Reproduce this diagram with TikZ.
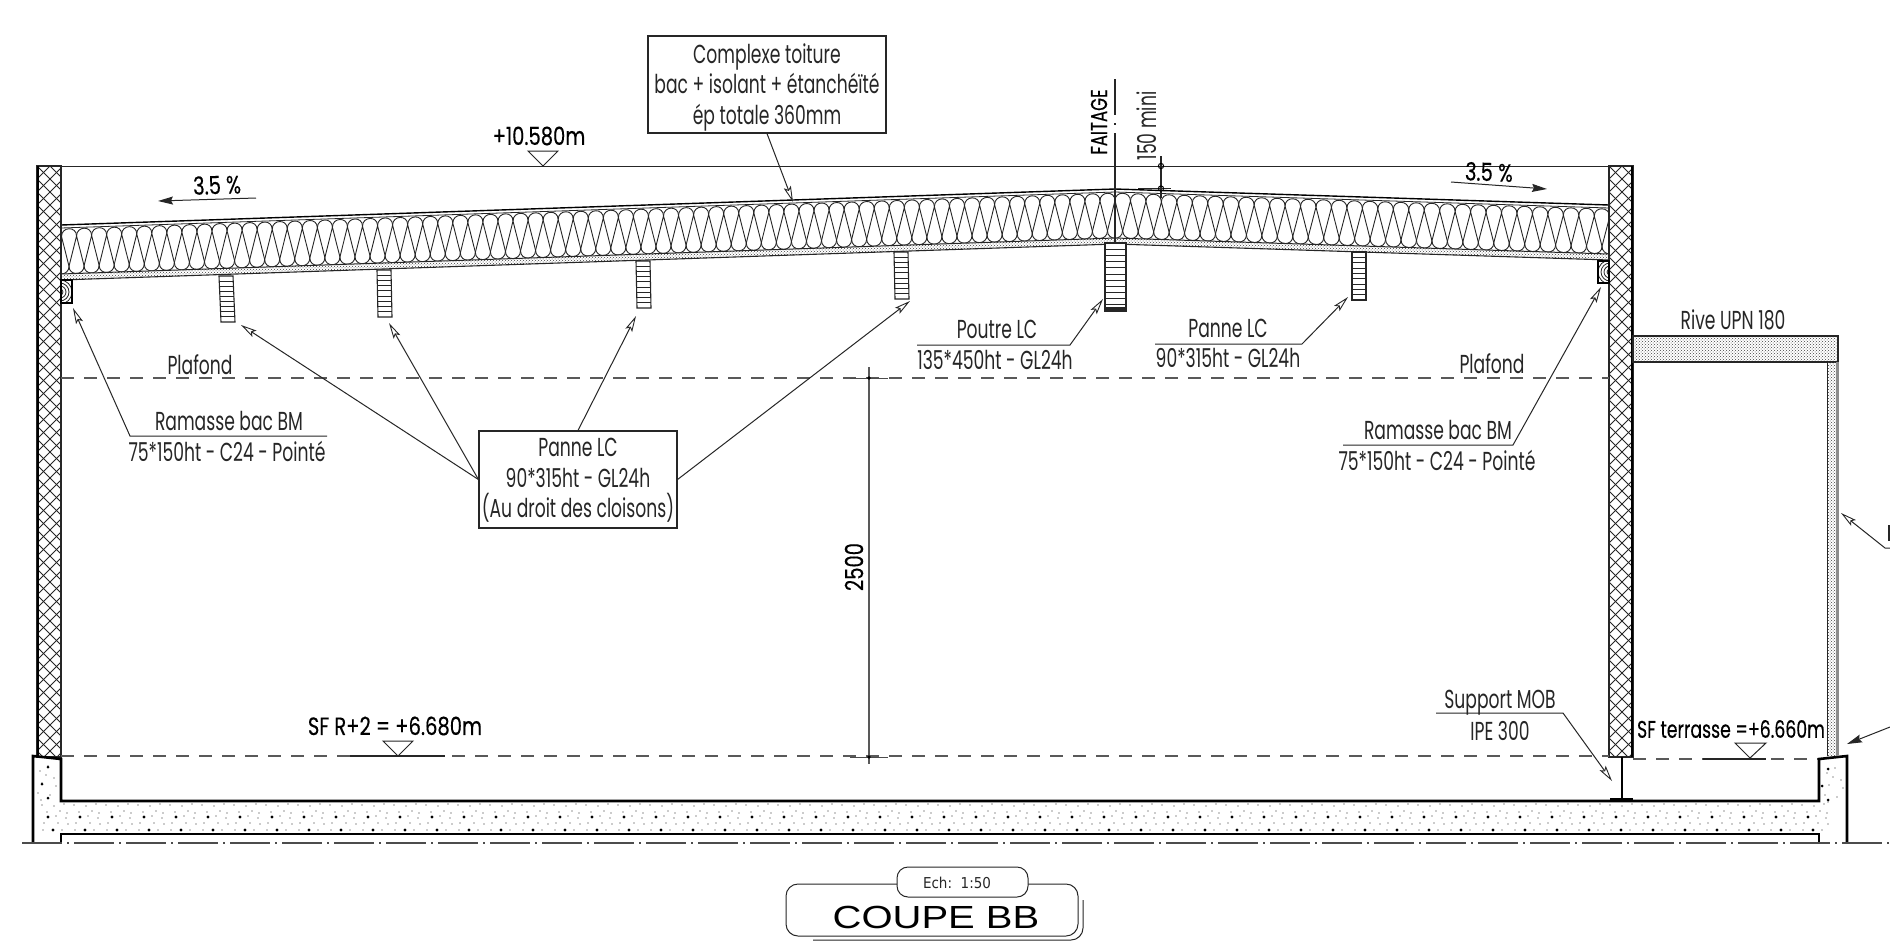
\documentclass[tikz,border=0pt]{standalone}
\usepackage{fontspec}
\usetikzlibrary{arrows.meta,patterns}
\newfontfamily\gothic{Poppins}[FakeStretch=0.66]
\newfontfamily\handf{Poppins}[FakeStretch=0.78,FakeBold=0.3]
\newfontfamily\handn{Poppins}[FakeStretch=0.72,FakeBold=0.3]
\newfontfamily\widef{Liberation Sans}[FakeStretch=1.25]
\newfontfamily\tahf{DejaVu Sans}[FakeStretch=0.9]
\definecolor{ink}{gray}{0.15}
\tikzset{
  thin line/.style={draw=ink,line width=1pt},
  heavy/.style={draw=black,line width=2.6pt},
  lab/.style={text=ink,font=\fontsize{26}{30.5}\selectfont\gothic,align=center,inner sep=0pt},
  hand/.style={text=black,font=\fontsize{25}{28}\selectfont\handf,inner sep=0pt},
  handnarrow/.style={text=black,font=\fontsize{24}{28}\selectfont\handn,inner sep=0pt},
  boxed/.style={draw=ink,line width=1.1pt,fill=white,inner sep=0pt},
  leader/.style={thin line,-{Stealth[fill=white,length=16pt,width=7.5pt,inset=3pt,line width=.9pt]}},
  solidarrow/.style={thin line,-{Stealth[length=15pt,width=8pt,inset=2pt]}},
  dashline/.style={draw=black!65,line width=1.2pt,dash pattern=on 13pt off 10pt},
  axisline/.style={draw=black!70,line width=1.1pt,dash pattern=on 40pt off 5pt on 1.5pt off 5.5pt},
  stipple/.style={pattern=crosshatch dots,pattern color=black!75},
  declare function={ytop(\x)=ifthenelse(\x<1115,225-0.03416*(\x-61),189+0.0324*(\x-1115));},
}
% crossed wall hatch
\newcommand{\wallhatch}[2]{%
  \begin{scope}
    \clip (#1,166) rectangle (#2,757);
    \foreach \o in {-26,-13,...,637}{
      \draw[ink,line width=.9pt] (#1+\o,166) -- ++(-620,620);
      \draw[ink,line width=.9pt] (#1-\o,166) -- ++(620,620);
    }
  \end{scope}
  \draw[ink,line width=1.1pt] (#1,166) rectangle (#2,757);
}
% hatched purlin: top-left, bottom-left, width, step count
\newcommand{\pannehatch}[6]{%
  \draw[ink,line width=1.1pt,fill=white] (#1,#2) -- (#3,#4) -- (#3+#5,#4) -- (#1+#5,#2) -- cycle;
  \foreach \t in {1,...,#6}{
    \pgfmathsetmacro{\fr}{\t/(#6+1)}
    \draw[ink,line width=.8pt] ({#1+(#3-#1)*\fr},{#2+(#4-#2)*\fr}) -- ++(#5,0);
  }
}
\begin{document}
\begin{tikzpicture}[x=1pt,y=-1pt]
\useasboundingbox[fill=white] (0,0) rectangle (1890,943);

% ---- top level line
\draw[thin line] (37,166) -- (1633,166);

% ---- roof: insulation
\begin{scope}
  \clip (61,225) -- (1115,189) -- (1609,205) -- (1609,260) -- (1115,244) -- (61,280) -- cycle;
  \foreach \k in {-72,...,33}{
    \pgfmathsetmacro{\p}{ifthenelse(\k<0,15.05,15.46)}
    \pgfmathsetmacro{\a}{1115+\k*\p}
    \pgfmathsetmacro{\b}{\a+\p}
    \pgfmathsetmacro{\c}{\a+\p/2}
    \pgfmathsetmacro{\d}{\a+1.5*\p}
    \pgfmathsetmacro{\ua}{ytop(\a)+11.5}
    \pgfmathsetmacro{\ub}{ytop(\b)+11.5}
    \pgfmathsetmacro{\lc}{ytop(\c)+41.5}
    \pgfmathsetmacro{\ld}{ytop(\d)+41.5}
    \draw[ink,line width=.9pt]
      (\a,\ua) .. controls (\a,\ua-10) and (\b,\ub-10) .. (\b,\ub)
      -- (\c,\lc) .. controls (\c,\lc+10) and (\d,\ld+10) .. (\d,\ld) -- (\b,\ub);
  }
\end{scope}
% roof layers
\fill[white] (61,225) -- (1115,189) -- (1609,205) -- (1609,208) -- (1115,192) -- (61,228) -- cycle;
\draw[black,line width=1.4pt] (61,225) -- (1115,189) -- (1609,205);
\draw[ink,line width=.8pt] (61,228) -- (1115,192) -- (1609,208);
\path[fill=white] (61,274) -- (1115,238) -- (1609,254) -- (1609,260) -- (1115,244) -- (61,280) -- cycle;
\path[stipple] (61,274) -- (1115,238) -- (1609,254) -- (1609,260) -- (1115,244) -- (61,280) -- cycle;
\draw[ink,line width=1pt] (61,274) -- (1115,238) -- (1609,254);
\draw[ink,line width=1.1pt] (61,280) -- (1115,244) -- (1609,260);

% ---- walls
\wallhatch{37}{61}
\wallhatch{1609}{1633}
\draw[black,line width=2pt] (38,166) -- (38,757);
\draw[black,line width=2pt] (1632,166) -- (1632,757);

% ---- ridge axis
\draw[ink,line width=1.1pt] (1115,79) -- (1115,115);
\draw[ink,line width=1.1pt] (1115,123) -- (1115,125);
\draw[ink,line width=1.1pt] (1115,133) -- (1115,243);

% ---- purlins
\pannehatch{219}{276}{221}{322}{14}{8}
\pannehatch{377}{270}{378}{317}{14}{8}
\pannehatch{636}{261}{637}{308}{14}{8}
\pannehatch{894}{252}{895}{299}{14}{8}
\pannehatch{1352}{252}{1352}{300}{14}{8}
\pannehatch{1105}{243}{1105}{311}{21}{10}
\fill[ink] (1105,307) rectangle (1126,311);

% ---- ramasse
\begin{scope}
  \clip (61,280) rectangle (72,303);
  \foreach \r in {3,6,9,12}{\draw[ink,line width=.8pt] (60,292) circle[radius=\r pt];}
\end{scope}
\draw[black,line width=1.3pt] (61,280) rectangle (72,303);
\begin{scope}
  \clip (1598,261) rectangle (1609,283);
  \foreach \r in {3,6,9,12}{\draw[ink,line width=.8pt] (1610,272) circle[radius=\r pt];}
\end{scope}
\draw[black,line width=1.3pt] (1598,261) rectangle (1609,283);

% ---- dashed levels
\draw[dashline] (61,378) -- (1609,378);
\draw[dashline] (61,756) -- (1609,756);
\draw[dashline] (1633,759) -- (1820,759);
\draw[ink,line width=1.4pt] (350,756) -- (445,756);
\draw[ink,line width=1.4pt] (1703,759) -- (1766,759);

% ---- concrete
\foreach \n in {0,...,55}{
  \pgfmathsetmacro{\xo}{40+32*\n}
  \foreach \dx/\yy in {2/805,14/806,24/804,7/812,20/811,27/813,16/816,26/818,4/823,18/823,28/824,3/830,22/830}{
    \fill[ink] (\xo+\dx,\yy) circle[radius=.7pt];
  }
  \foreach \dx/\yy in {8/817,13/830}{
    \fill[black] (\xo+\dx,\yy) circle[radius=1.6pt];
  }
}
\foreach \px/\py in {40/771,48/766,54/778,42/783,50/795,41/800,56/786,38/793,46/775}{
  \fill[ink] (\px,\py) circle[radius=.7pt];
  \fill[ink] (\px+1787,\py+2) circle[radius=.7pt];
}
\foreach \px/\py in {48/767,42/784,48/798}{
  \fill[black] (\px,\py) circle[radius=1.5pt];
  \fill[black] (\px+1780,\py+2) circle[radius=1.5pt];
}
% slab outline and parapets
\draw[heavy,line join=miter] (33,843) -- (33,756) -- (61,759) -- (61,801) -- (1819,801) -- (1819,759) -- (1847,756) -- (1847,843);
\draw[heavy] (61,843) -- (61,834) -- (1819,834) -- (1819,843);
\draw[axisline] (22,843) -- (1890,843);

% ---- IPE support
\draw[black,line width=1.8pt] (1622,757) -- (1622,800);
\draw[black,line width=2.4pt] (1610,799.5) -- (1633,799.5);

% ---- rive
\path[fill=white] (1633,336) rectangle (1838,362);
\path[stipple] (1633,336) rectangle (1838,362);
\draw[ink,line width=1.1pt] (1633,336) rectangle (1838,362);
\path[stipple] (1827,362) rectangle (1838,756);
\draw[black!45,line width=2.4pt] (1837.5,362) -- (1837.5,756);
\draw[ink,line width=1pt] (1827,362) -- (1827,756);

% ---- levels
\node[hand] (lvlroof) at (539,136) {+10.580m};
\draw[thin line] (528,151) -- (558,151) -- (543,166) -- cycle;
\node[hand] (lvlr2) at (395,726) {SF R+2 = +6.680m};
\draw[thin line] (383,741) -- (413,741) -- (398,756) -- cycle;
\node[handnarrow] (lvlter) at (1731,729) {SF terrasse =+6.660m};
\draw[thin line] (1735,743) -- (1766,743) -- (1750,758) -- cycle;

% ---- slopes
\node[hand,rotate=2] (slopeL) at (217,185) {3.5 \%};
\coordinate (slAa) at (256,198);
\coordinate (slAb) at (158,201);
\draw[solidarrow] (slAa) -- (slAb);
\node[hand,rotate=-2] (slopeR) at (1489,172) {3.5 \%};
\coordinate (slBa) at (1451,182);
\coordinate (slBb) at (1547,189);
\draw[solidarrow] (slBa) -- (slBb);

% ---- boxes with leaders
\node[boxed,minimum width=238pt,minimum height=97pt] (complexe) at (767,84.5) {};
\node[lab] (complexeTxt) at (767,87)
  {Complexe toiture\\bac + isolant + étanchéïté\\ép totale 360mm};
\coordinate (complexeT) at (793,202);
\draw[leader] (complexe.south) -- (complexeT);

\node[boxed,minimum width=198pt,minimum height=97pt] (panne) at (578,479.5) {};
\node[lab] (panneTxt) at (578,480.5)
  {Panne LC\\90*315ht - GL24h\\(Au droit des cloisons)};
\coordinate (pt1) at (241,325);
\coordinate (pt2) at (389,323);
\coordinate (pt3) at (636,316);
\coordinate (pt4) at (910,301);
\draw[leader] (panne.west) -- (pt1);
\draw[leader] (panne.west) -- (pt2);
\draw[leader] (panne.north) -- (pt3);
\draw[leader] (panne.east) -- (pt4);

% ---- underlined labels
\node[lab] (ramL1) at (229,421) {Ramasse bac BM};
\node[lab] (ramL2) at (227,451) {75*150ht - C24 - Pointé};
\coordinate (ramLa) at (327,436);
\coordinate (ramLb) at (130,436);
\coordinate (ramLt) at (73,308);
\draw[leader] (ramLa) -- (ramLb) -- (ramLt);

\node[lab] (ramR1) at (1438,430) {Ramasse bac BM};
\node[lab] (ramR2) at (1437,460) {75*150ht - C24 - Pointé};
\coordinate (ramRa) at (1343,445);
\coordinate (ramRb) at (1513,445);
\coordinate (ramRt) at (1601,287);
\draw[leader] (ramRa) -- (ramRb) -- (ramRt);

\node[lab] (poutre1) at (997,329) {Poutre LC};
\node[lab] (poutre2) at (995,360) {135*450ht - GL24h};
\coordinate (poutrea) at (917,345);
\coordinate (poutreb) at (1070,345);
\coordinate (poutret) at (1103,299);
\draw[leader] (poutrea) -- (poutreb) -- (poutret);

\node[lab] (pan1) at (1228,328) {Panne LC};
\node[lab] (pan2) at (1228,358) {90*315ht - GL24h};
\coordinate (pana) at (1155,344);
\coordinate (panb) at (1302,344);
\coordinate (pant) at (1348,297);
\draw[leader] (pana) -- (panb) -- (pant);

\node[lab] (sup1) at (1500,703) {Support MOB};
\node[lab] (sup2) at (1500,731) {IPE 300};
\coordinate (supa) at (1436,713);
\coordinate (supb) at (1563,713);
\coordinate (supt) at (1612,781);
\draw[leader] (supa) -- (supb) -- (supt);

\node[lab] (plafL) at (200,365) {Plafond};
\node[lab] (plafR) at (1492,364) {Plafond};
\node[lab] (rive) at (1733,320) {Rive UPN 180};

% ---- right-hand cut leaders
\coordinate (cutAe) at (1890,548);
\coordinate (cutAb) at (1885,548);
\coordinate (cutAt) at (1841,513);
\draw[leader] (cutAe) -- (cutAb) -- (cutAt);
\draw[ink,line width=1.1pt] (1889,525) -- (1889,541);
\coordinate (cutBe) at (1890,727);
\coordinate (cutBt) at (1847,744);
\draw[solidarrow] (cutBe) -- (cutBt);

% ---- ridge labels
\node[handnarrow,font=\fontsize{23}{28}\selectfont\handn,rotate=90] (faitage) at (1099,122) {FAITAGE};
\node[lab,rotate=90] (mini) at (1147,126) {150 mini};
\draw[ink,line width=1.1pt] (1161,156) -- (1161,198);
\draw[ink,line width=1.1pt] (1138,188.5) -- (1171,188.5);
\foreach \yy in {166,188.5}{\draw[black,line width=1pt] (1161,\yy) circle[radius=2.6pt];}

% ---- 2500 dimension
\coordinate (dimA) at (869,367);
\coordinate (dimB) at (869,764);
\draw[draw=black!65,line width=1.2pt] (dimA) -- (dimB);
\draw[black!70,line width=1pt] (850,378) -- (888,378);
\draw[black!70,line width=1pt] (850,757) -- (888,757);
\foreach \yy in {378,757}{\fill[black] (869,\yy) circle[radius=1.8pt];}
\node[hand,rotate=90] (dimtxt) at (854,567) {2500};

% ---- title
\draw[ink,line width=1pt,rounded corners=12pt] (813,940) -- (1083,940) -- (1083,900);
\node[draw=ink,line width=1pt,rounded corners=12pt,minimum width=292pt,minimum height=52pt,inner sep=0pt] (titlebox) at (932,910) {};
\node[draw=ink,fill=white,line width=1pt,rounded corners=11pt,minimum width=131pt,minimum height=30pt,inner sep=0pt] (echbox) at (962.5,882) {};
\node[inner sep=0pt,text=ink,font=\fontsize{15}{17}\selectfont\tahf] (ech) at (957,883) {Ech:\ \ 1:50};
\node[inner sep=0pt,text=black,font=\fontsize{32}{36}\selectfont\widef] (coupe) at (936,917) {COUPE BB};
\end{tikzpicture}
\end{document}
